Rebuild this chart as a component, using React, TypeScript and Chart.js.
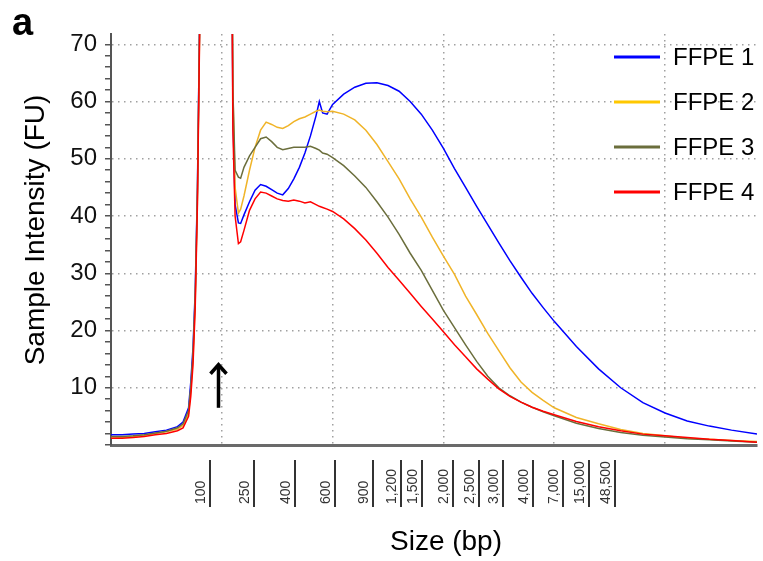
import React, { useEffect, useRef } from 'react';
import { Chart, registerables } from 'chart.js';

Chart.register(...registerables);

// Migration position (arbitrary time-like units) of every sample
const positions = [
  20, 21, 22, 23, 24, 25, 26, 26.5, 27, 27.2, 27.4, 27.6, 27.8, 28, 28.2,
  28.5, 29, 29.5, 30, 30.5, 30.8,
  31.0, 31.2, 31.5, 31.7,
  32, 32.5, 33, 33.5, 34, 34.5, 35, 35.5, 36, 36.5, 37, 37.5, 38, 38.5, 38.8, 39.1, 39.5, 40,
  41, 42, 43, 44, 45, 46, 47, 48, 49, 50, 51, 52, 53, 54, 55, 56, 57, 58, 59, 60,
  62, 64, 66, 68, 70, 72, 74, 76, 78.3,
];

const ffpe1 = [
  1.8, 1.8, 1.9, 2.0, 2.3, 2.6, 3.2, 4.0, 6.5, 11, 17, 27, 45, 75, 110,
  150, 200, 190, 180, 170, 120,
  58, 42, 38.8, 38.7,
  40.2, 42.5, 44.5, 45.5, 45.2, 44.6, 44.0, 43.7, 44.8, 46.5, 48.5, 51, 54, 57.5, 60, 58, 57.8, 59.5,
  61.3, 62.5, 63.2, 63.3, 62.8, 61.8, 60, 57.8, 55, 51.8, 48.3, 45, 41.7, 38.5, 35.3, 32.2, 29.3, 26.5, 24, 21.6,
  17.2, 13.3, 10.0, 7.4, 5.6, 4.2, 3.3, 2.6, 1.9,
];

const ffpe2 = [
  1.2, 1.3, 1.5, 1.7, 2.0, 2.3, 2.8, 3.4, 5.5, 9.5, 15, 25, 43, 73, 108,
  150, 200, 190, 180, 170, 120,
  62, 45, 40.5, 41.2,
  43.5, 48, 52, 55, 56.4, 56, 55.5, 55.3, 55.8, 56.5, 57, 57.3, 57.8, 58.3, 58.5, 58.3, 58.2, 58.3,
  57.8, 56.8, 55, 52.5, 49.5, 46.5, 43, 39.8, 36.3, 33, 29.8, 26, 22.8, 19.5, 16.5, 13.5, 11, 9.2, 7.8, 6.5,
  4.8, 3.7, 2.7, 2.0, 1.6, 1.2, 1.0, 0.8, 0.6,
];

const ffpe3 = [
  1.5, 1.5, 1.6, 1.8, 2.1, 2.4, 3.0, 3.7, 6.0, 10, 16, 26, 44, 74, 108,
  150, 200, 190, 180, 170, 120,
  62, 48, 46.8, 46.6,
  48.5, 50.5, 52, 53.5, 53.8, 53, 52, 51.6, 51.8, 52, 52, 52, 52.2, 51.8, 51.5, 51, 50.8, 50.2,
  48.8, 47, 45, 42.5, 39.8, 36.8, 33.5, 30.5, 27, 23.5, 20.5, 17.5, 14.6, 12.0, 10.0, 8.6, 7.5, 6.6, 5.8, 5.1,
  3.8, 2.9, 2.2, 1.7, 1.4, 1.1, 0.9, 0.7, 0.5,
];

const ffpe4 = [
  1.2, 1.2, 1.3, 1.5, 1.8, 2.0, 2.5, 3.0, 5.0, 8.5, 14, 24, 42, 72, 105,
  150, 200, 190, 180, 170, 120,
  55, 40, 35.2, 35.5,
  37.5, 41, 43, 44.2, 44, 43.5, 43, 42.7, 42.6, 42.8, 42.6, 42.3, 42.5, 42, 41.7, 41.5, 41.2, 40.8,
  39.5, 37.8, 35.8, 33.5, 31, 28.8, 26.5, 24.2, 22, 19.8, 17.5, 15.4, 13.3, 11.5, 9.8, 8.5, 7.5, 6.6, 5.9, 5.3,
  4.1, 3.2, 2.5, 1.9, 1.6, 1.3, 1.0, 0.8, 0.5,
];

const seriesNames = ['FFPE 1', 'FFPE 2', 'FFPE 3', 'FFPE 4'];
const seriesColors = ['#0000ff', '#f0b428', '#6b6e3c', '#ff0000'];
const legendColors = ['#0000ff', '#ffc800', '#6b6e3c', '#ff0000'];

// Size ladder labels (bp) and their positions on the migration axis
const sizeLabels = ['100', '250', '400', '600', '900', '1,200', '1,500', '2,000', '2,500', '3,000', '4,000', '7,000', '15,000', '48,500'];
const sizePositions = [28.95, 32.93, 36.64, 40.25, 43.6, 46.13, 48.03, 50.83, 53.18, 55.35, 58.07, 60.78, 63.13, 65.48];

const arrowPosition = 29.7;
const arrowFrom = 6.5;
const arrowTo = 14.2;

const FONT = '"Liberation Sans", Arial, Helvetica, sans-serif';

const overlayPlugin = {
  id: 'overlay',
  afterDraw(chart: any) {
    const ctx = chart.ctx as CanvasRenderingContext2D;
    const xs = chart.scales.x;
    const ys = chart.scales.y;
    const area = chart.chartArea;
    ctx.save();

    // size tick labels with bars
    ctx.font = `14px ${FONT}`;
    ctx.fillStyle = '#333';
    ctx.strokeStyle = '#333';
    ctx.lineWidth = 2;
    sizeLabels.forEach((lab, i) => {
      const px = Math.round(xs.getPixelForValue(sizePositions[i]));
      ctx.beginPath();
      ctx.moveTo(px, area.bottom + 15);
      ctx.lineTo(px, area.bottom + 62);
      ctx.stroke();
      ctx.save();
      ctx.translate(px - 5, area.bottom + 59);
      ctx.rotate(-Math.PI / 2);
      ctx.textAlign = 'left';
      ctx.textBaseline = 'alphabetic';
      ctx.fillText(lab, 0, 0);
      ctx.restore();
    });

    // axis titles
    ctx.fillStyle = '#000';
    ctx.font = `28px ${FONT}`;
    ctx.textAlign = 'center';
    ctx.textBaseline = 'alphabetic';
    ctx.fillText('Size (bp)', 446, 550);
    ctx.save();
    ctx.translate(44, 230);
    ctx.rotate(-Math.PI / 2);
    ctx.fillText('Sample Intensity (FU)', 0, 0);
    ctx.restore();

    // panel letter
    ctx.font = `bold 38px ${FONT}`;
    ctx.textAlign = 'left';
    ctx.fillText('a', 12, 35);

    // legend
    ctx.font = `24px ${FONT}`;
    ctx.textBaseline = 'middle';
    seriesNames.forEach((name, i) => {
      const y = 57 + i * 45;
      ctx.strokeStyle = legendColors[i];
      ctx.lineWidth = 3;
      ctx.beginPath();
      ctx.moveTo(614, y);
      ctx.lineTo(660, y);
      ctx.stroke();
      ctx.fillStyle = '#000';
      ctx.fillText(name, 673, y + 1);
    });

    // arrow
    const ax = Math.round(xs.getPixelForValue(arrowPosition)) + 0.5;
    const y1 = ys.getPixelForValue(arrowFrom);
    const y2 = ys.getPixelForValue(arrowTo);
    ctx.strokeStyle = '#000';
    ctx.lineWidth = 3.5;
    ctx.lineJoin = 'miter';
    ctx.beginPath();
    ctx.moveTo(ax, y1);
    ctx.lineTo(ax, y2 + 1);
    ctx.stroke();
    ctx.beginPath();
    ctx.moveTo(ax - 8, y2 + 10);
    ctx.lineTo(ax, y2 + 1);
    ctx.lineTo(ax + 8, y2 + 10);
    ctx.stroke();

    ctx.restore();
  },
};

export default function App() {
  const ref = useRef<HTMLCanvasElement | null>(null);

  useEffect(() => {
    if (!ref.current) return;
    const all = [ffpe1, ffpe2, ffpe3, ffpe4];
    const chart = new Chart(ref.current, {
      type: 'line',
      data: {
        datasets: all.map((s, i) => ({
          label: seriesNames[i],
          data: positions.map((x, j) => ({ x, y: s[j] })),
          borderColor: seriesColors[i],
          backgroundColor: seriesColors[i],
          borderWidth: 1.5,
          pointRadius: 0,
          tension: 0,
          fill: false,
          order: 3 - i,
        })),
      },
      options: {
        responsive: false,
        animation: false,
        devicePixelRatio: 1,
        layout: { padding: { top: 34, right: 6, left: 0, bottom: 0 } },
        plugins: { legend: { display: false }, tooltip: { enabled: false } },
        scales: {
          x: {
            type: 'linear',
            min: 20,
            max: 78.3,
            afterFit: (s: any) => { s.height = 116; },
            ticks: { display: false, stepSize: 10, includeBounds: false },
            grid: {
              color: (c: any) => (c.tick && c.tick.value > 20 && c.tick.value < 78 ? '#a0a0a0' : 'rgba(0,0,0,0)'),
              lineWidth: 1.5,
              drawTicks: false,
            },
            border: { color: '#6a6a6a', width: 3, dash: [1.5, 4.5] },
          },
          y: {
            type: 'linear',
            min: 0,
            max: 71.8,
            afterFit: (s: any) => { s.width = 111; },
            ticks: {
              stepSize: 2,
              includeBounds: false,
              autoSkip: false,
              padding: 8,
              color: '#111',
              font: { family: FONT, size: 24 },
              callback: (v: any) => (Number(v) % 10 === 0 && Number(v) > 0 ? String(v) : ''),
            },
            grid: {
              color: (c: any) => (c.tick && c.tick.value % 10 === 0 && c.tick.value > 0 ? '#a0a0a0' : 'rgba(0,0,0,0)'),
              lineWidth: 1.5,
              tickColor: '#555',
              tickLength: 6,
              tickWidth: 1.5,
              tickBorderDash: [],
            },
            border: { color: '#555', width: 2, dash: [1.5, 4.5] },
          },
        },
      },
      plugins: [overlayPlugin],
    });
    return () => chart.destroy();
  }, []);

  return (
    <div style={{ position: 'fixed', left: 0, top: 0, width: 763, height: 561, background: '#fff' }}>
      <canvas ref={ref} width={763} height={561} />
    </div>
  );
}
